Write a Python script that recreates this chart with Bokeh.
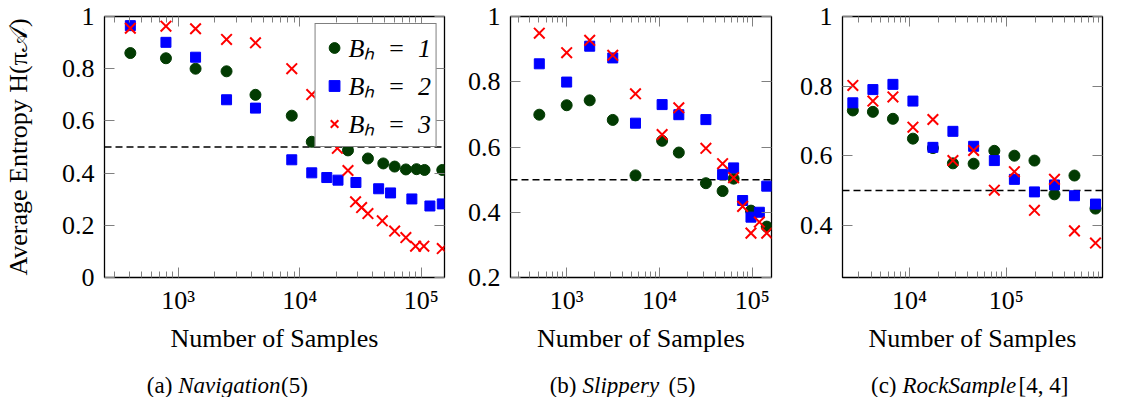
from bokeh.plotting import figure
from bokeh.layouts import row, column
from bokeh.models import (Range1d, FixedTicker, LogAxis, LinearAxis, Span, Legend,
                          LegendItem, CustomJSTickFormatter, Label)
from bokeh.embed import file_html
from bokeh.resources import INLINE

# ---------------- data ----------------
series_labels = ["Bₕ\u2002=\u20021", "Bₕ\u2002=\u20022", "Bₕ\u2002=\u20023"]

# (a) Navigation(5)
nav_x_b1 = [404, 793, 1390, 2500, 4325, 8600, 12560, 24950, 36400, 48700, 60400, 74700, 91400, 106400, 148900]
nav_y_b1 = [0.86, 0.84, 0.80, 0.79, 0.70, 0.62, 0.52, 0.487, 0.456, 0.437, 0.425, 0.414, 0.415, 0.412, 0.412]
nav_x_b2 = [404, 793, 1390, 2500, 4325, 8600, 12560, 16700, 20650, 29000, 44600, 55900, 83700, 117800, 148900]
nav_y_b2 = [0.965, 0.901, 0.844, 0.681, 0.649, 0.451, 0.401, 0.383, 0.373, 0.364, 0.34, 0.324, 0.301, 0.274, 0.282]
nav_x_b3 = [404, 793, 1390, 2500, 4325, 8600, 12560, 20400, 24950, 28800, 32300, 36400, 47800, 60400, 74700, 89800, 105000, 148900]
nav_y_b3 = [0.955, 0.963, 0.953, 0.912, 0.899, 0.80, 0.701, 0.495, 0.41, 0.29, 0.268, 0.245, 0.217, 0.178, 0.153, 0.12, 0.12, 0.111]

# (b) Slippery(5)
slip_x_b1 = [507, 1000, 1771, 3139, 5520, 10690, 16180, 31690, 47970, 63060, 97040, 143500]
slip_y_b1 = [0.699, 0.728, 0.743, 0.683, 0.513, 0.619, 0.583, 0.489, 0.465, 0.503, 0.405, 0.356]
slip_x_b2 = [507, 1000, 1771, 3139, 5520, 10690, 16180, 31690, 47970, 63060, 78890, 97040, 119400, 143500]
slip_y_b2 = [0.855, 0.799, 0.909, 0.873, 0.673, 0.73, 0.699, 0.684, 0.516, 0.536, 0.436, 0.385, 0.40, 0.48]
slip_x_b3 = [507, 1000, 1771, 3139, 5520, 10690, 16180, 31690, 47970, 63060, 78890, 97040, 119400, 143500]
slip_y_b3 = [0.949, 0.889, 0.927, 0.881, 0.763, 0.638, 0.72, 0.596, 0.549, 0.506, 0.418, 0.336, 0.37, 0.336]

# (c) RockSample[4,4]
rock_x = [2594, 4180, 6730, 10830, 17420, 28040, 45900, 75100, 121000, 195000, 314000, 505000, 833000]
rock_y_b1 = [0.73, 0.726, 0.706, 0.649, 0.622, 0.578, 0.577, 0.614, 0.60, 0.586, 0.489, 0.543, 0.448]
rock_y_b2 = [0.752, 0.79, 0.805, 0.757, 0.624, 0.67, 0.627, 0.586, 0.532, 0.496, 0.516, 0.485, 0.461]
rock_y_b3 = [0.802, 0.757, 0.769, 0.682, 0.704, 0.586, 0.615, 0.501, 0.554, 0.443, 0.532, 0.384, 0.349]

nav_yticks = [0, 0.2, 0.4, 0.6, 0.8, 1]
slip_yticks = [0.2, 0.4, 0.6, 0.8, 1]
rock_yticks = [0.4, 0.6, 0.8, 1]
nav_xticks = [1e3, 1e4, 1e5]
slip_xticks = [1e3, 1e4, 1e5]
rock_xticks = [1e4, 1e5, 1e6]

threshold = 0.5
# -----------------------------------------------------------------

FONT = "Liberation Serif"
GREEN = "#023b02"
BLUE = "#0000ff"
RED = "#ff0000"
TICK_COL = "#808080"
TOP, FRAME_H, BOTTOM, CAP_H = 16, 261, 85, 35

SUP_CODE = """
const s = {1:"\u00b9",2:"\u00b2",3:"\u00b3",4:"\u2074",5:"\u2075",6:"\u2076",7:"\u2077"};
const e = Math.round(Math.log10(tick));
return "10" + s[e];
"""
Y_CODE = "return String(Math.round(tick*10)/10);"


def minor_ticks(lo, hi):
    out = []
    for e in range(1, 8):
        for k in range(2, 10):
            v = k * 10 ** e
            if lo <= v <= hi:
                out.append(v)
    return out


def style_axis(ax, labels=True):
    ax.axis_line_color = None
    ax.major_tick_in = 10
    ax.major_tick_out = 0
    ax.minor_tick_in = 6
    ax.minor_tick_out = 0
    ax.major_tick_line_color = TICK_COL
    ax.minor_tick_line_color = TICK_COL
    ax.major_label_text_font = FONT
    ax.major_label_text_color = "black"
    if labels:
        ax.major_label_text_font_size = "26px"
    else:
        ax.major_label_text_font_size = "1px"
        ax.major_label_text_alpha = 0
        ax.major_label_standoff = 0


def panel(xr, yr, xticks, yticks, data, left, right, fw, ylabel=None, legend=False):
    p = figure(x_axis_type="log", x_range=Range1d(*xr), y_range=Range1d(*yr),
               width=left + fw + right, height=TOP + FRAME_H + BOTTOM,
               min_border_left=left, min_border_right=right,
               min_border_top=TOP, min_border_bottom=BOTTOM,
               output_backend="svg", toolbar_location=None,
               background_fill_color="white", border_fill_color="white")
    p.grid.visible = False
    p.outline_line_color = "black"
    p.outline_line_width = 1.3

    xt = FixedTicker(ticks=xticks, minor_ticks=minor_ticks(xr[0], xr[1]))
    yt = FixedTicker(ticks=yticks, minor_ticks=[])

    xa = p.xaxis[0]
    xa.ticker = xt
    xa.formatter = CustomJSTickFormatter(code=SUP_CODE)
    style_axis(xa)
    xa.major_label_standoff = 8
    xa.axis_label = "Number of Samples"
    xa.axis_label_text_font = FONT
    xa.axis_label_text_font_size = "26px"
    xa.axis_label_text_font_style = "normal"
    xa.axis_label_text_color = "black"
    xa.axis_label_standoff = 6

    ya = p.yaxis[0]
    ya.ticker = yt
    ya.formatter = CustomJSTickFormatter(code=Y_CODE)
    style_axis(ya)
    ya.major_label_standoff = 10
    if ylabel:
        ya.axis_label = ylabel
        ya.axis_label_text_font = FONT
        ya.axis_label_text_font_size = "26px"
        ya.axis_label_text_font_style = "normal"
        ya.axis_label_text_color = "black"
        ya.axis_label_standoff = 26

    top = LogAxis(ticker=xt, formatter=CustomJSTickFormatter(code=SUP_CODE))
    style_axis(top, labels=False)
    p.add_layout(top, "above")
    rt = LinearAxis(ticker=yt, formatter=CustomJSTickFormatter(code=Y_CODE))
    style_axis(rt, labels=False)
    p.add_layout(rt, "right")

    p.add_layout(Span(location=threshold, dimension="width", line_color="black",
                      line_dash="7 4", line_width=1.5, level="underlay"))

    (x1, y1), (x2, y2), (x3, y3) = data
    r1 = p.scatter(x1, y1, marker="circle", size=11, fill_color=GREEN, line_color=GREEN)
    r2 = p.scatter(x2, y2, marker="square", size=10, fill_color=BLUE, line_color=BLUE)
    r3 = p.scatter(x3, y3, marker="x", size=15, line_color=RED, line_width=2)

    if legend:
        lg = Legend(items=[LegendItem(label=series_labels[0], renderers=[r1]),
                           LegendItem(label=series_labels[1], renderers=[r2]),
                           LegendItem(label=series_labels[2], renderers=[r3])],
                    location="top_right", margin=7, padding=5, spacing=2,
                    glyph_width=27, glyph_height=31, label_height=31, label_standoff=1,
                    label_text_font=FONT, label_text_font_size="26px",
                    label_text_font_style="italic", label_text_color="black",
                    border_line_color="black", border_line_width=1.2,
                    background_fill_color="white", background_fill_alpha=1)
        p.add_layout(lg)
    return p


def caption_fig(left, fw, right, parts):
    # frame spans the same columns as the panel's frame; data x == canvas x
    c = figure(width=left + fw + right, height=CAP_H,
               x_range=Range1d(left, left + fw), y_range=Range1d(0, CAP_H),
               x_axis_location=None, y_axis_location=None,
               min_border_left=left, min_border_right=right,
               min_border_top=0, min_border_bottom=0,
               output_backend="svg", toolbar_location=None,
               background_fill_color="white", border_fill_color="white")
    c.outline_line_color = None
    c.grid.visible = False
    for text, xpos, style, align in parts:
        c.add_layout(Label(x=xpos, y=12, text=text, text_font=FONT, text_font_size="23px",
                           text_font_style=style, text_align=align,
                           text_baseline="alphabetic", text_color="black"))
    return c


p1 = panel((247.6, 155300), (0, 1), nav_xticks, nav_yticks,
           [(nav_x_b1, nav_y_b1), (nav_x_b2, nav_y_b2), (nav_x_b3, nav_y_b3)],
           103, 14, 341, ylabel="Average Entropy H(π𝒜)", legend=True)
p2 = panel((248, 161500), (0.2, 1), slip_xticks, slip_yticks,
           [(slip_x_b1, slip_y_b1), (slip_x_b2, slip_y_b2), (slip_x_b3, slip_y_b3)],
           52, 19, 261)
p3 = panel((2028, 984000), (0.25, 1), rock_xticks, rock_yticks,
           [(rock_x, rock_y_b1), (rock_x, rock_y_b2), (rock_x, rock_y_b3)],
           52, 19, 260)

c1 = caption_fig(103, 341, 14, [("(a)", 171, "normal", "right"), ("Navigation", 177, "italic", "left"),
                                ("(5)", 280, "normal", "left")])
c2 = caption_fig(52, 261, 19, [("(b)", 118, "normal", "right"), ("Slippery", 124, "italic", "left"),
                               ("(5)", 210, "normal", "left")])
c3 = caption_fig(52, 260, 19, [("(c)", 106, "normal", "right"), ("RockSample", 112, "italic", "left"),
                               ("[4, 4]", 228, "normal", "left")])

layout = row(column(p1, c1, spacing=0), column(p2, c2, spacing=0),
             column(p3, c3, spacing=0), spacing=0)
open("out.html", "w").write(file_html(layout, INLINE))
